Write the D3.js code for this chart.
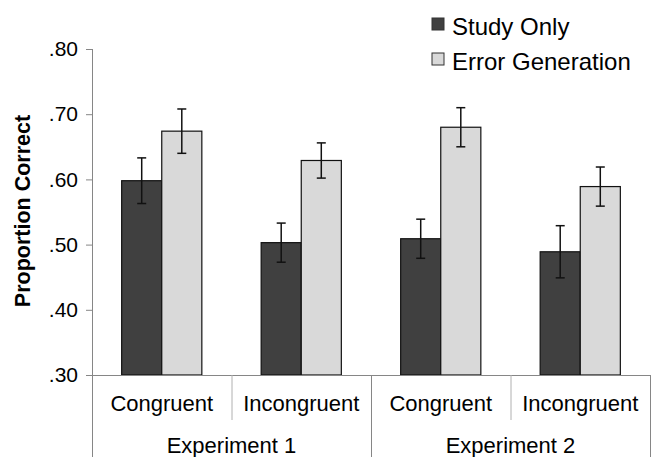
<!DOCTYPE html>
<html>
<head>
<meta charset="utf-8">
<script src="https://cdn.jsdelivr.net/npm/d3@7"></script>
<style>
  body { margin: 0; background: #fff; }
  svg { display: block; font-family: "Liberation Sans", Arial, sans-serif; }
</style>
</head>
<body>
<svg width="655" height="457"></svg>
<script>
// data
var experiments = ['Experiment 1', 'Experiment 2'];
var conditions = ['Congruent', 'Incongruent', 'Congruent', 'Incongruent'];
var series = ['Study Only', 'Error Generation'];
var studyOnly = [0.598, 0.503, 0.509, 0.489];
var studyOnlyErr = [0.035, 0.030, 0.030, 0.040];
var errorGen = [0.674, 0.629, 0.680, 0.589];
var errorGenErr = [0.034, 0.027, 0.030, 0.030];
var yTicks = [0.30, 0.40, 0.50, 0.60, 0.70, 0.80];
var colors = ['#404040', '#d9d9d9'];

var svg = d3.select('svg');
var plotLeft = 92, plotRight = 650, plotTop = 49, plotBottom = 375;

var x0 = d3.scaleBand()
  .domain(d3.range(conditions.length))
  .range([plotLeft, plotRight])
  .padding(0);

var x1 = d3.scaleBand()
  .domain(series)
  .range([0, x0.bandwidth()])
  .paddingInner(0)
  .paddingOuter(0.74);

var y = d3.scaleLinear().domain([0.30, 0.80]).range([plotBottom, plotTop]);

// rows for the bars
var rows = [];
conditions.forEach(function (c, i) {
  rows.push({ i: i, s: series[0], v: studyOnly[i], e: studyOnlyErr[i] });
  rows.push({ i: i, s: series[1], v: errorGen[i], e: errorGenErr[i] });
});

var axisColor = '#868686';

// y axis
var yAxis = d3.axisLeft(y)
  .tickValues(yTicks)
  .tickSize(6)
  .tickPadding(8)
  .tickFormat(function (d) { return d3.format('.2f')(d).replace(/^0/, ''); });

var ya = svg.append('g').attr('transform', 'translate(' + plotLeft + ',0)').call(yAxis);
ya.select('.domain').remove();
ya.selectAll('.tick line').attr('stroke', axisColor);
ya.selectAll('.tick text')
  .attr('fill', '#000')
  .style('font-size', '21px')
  .attr('font-family', '"Liberation Sans", Arial, sans-serif');

// y axis line goes down past the x axis to the bottom
svg.append('line')
  .attr('x1', plotLeft + 0.5).attr('x2', plotLeft + 0.5)
  .attr('y1', plotTop).attr('y2', 457)
  .attr('stroke', axisColor);

// bars
svg.append('g').selectAll('rect')
  .data(rows)
  .enter().append('rect')
  .attr('x', function (d) { return x0(d.i) + x1(d.s); })
  .attr('y', function (d) { return y(d.v); })
  .attr('width', x1.bandwidth())
  .attr('height', function (d) { return y(0.30) - y(d.v); })
  .attr('fill', function (d) { return colors[series.indexOf(d.s)]; })
  .attr('stroke', '#111')
  .attr('stroke-width', 1.2);

// error bars
var eb = svg.append('g').selectAll('g')
  .data(rows)
  .enter().append('g')
  .attr('transform', function (d) {
    return 'translate(' + (x0(d.i) + x1(d.s) + x1.bandwidth() / 2) + ',0)';
  });
eb.append('line')
  .attr('y1', function (d) { return y(d.v + d.e); })
  .attr('y2', function (d) { return y(d.v - d.e); })
  .attr('stroke', '#111').attr('stroke-width', 1.5);
eb.append('line')
  .attr('x1', -4.5).attr('x2', 4.5)
  .attr('y1', function (d) { return y(d.v + d.e); })
  .attr('y2', function (d) { return y(d.v + d.e); })
  .attr('stroke', '#111').attr('stroke-width', 1.5);
eb.append('line')
  .attr('x1', -4.5).attr('x2', 4.5)
  .attr('y1', function (d) { return y(d.v - d.e); })
  .attr('y2', function (d) { return y(d.v - d.e); })
  .attr('stroke', '#111').attr('stroke-width', 1.5);

// x axis line
svg.append('line')
  .attr('x1', plotLeft - 6).attr('x2', plotRight)
  .attr('y1', plotBottom + 0.5).attr('y2', plotBottom + 0.5)
  .attr('stroke', axisColor);

// category dividers
d3.range(1, conditions.length + 1).forEach(function (i) {
  var xx = (i < conditions.length ? x0(i) : plotRight) + 0.5;
  var full = (i % 2 === 0);
  svg.append('line')
    .attr('x1', xx).attr('x2', xx)
    .attr('y1', plotBottom).attr('y2', full ? 457 : 420)
    .attr('stroke', full ? axisColor : '#b0b0b0');
});

// category labels
svg.append('g').selectAll('text')
  .data(conditions)
  .enter().append('text')
  .attr('x', function (d, i) { return x0(i) + x0.bandwidth() / 2; })
  .attr('y', 411)
  .attr('text-anchor', 'middle')
  .style('font-size', '22px')
  .text(function (d) { return d; });

// experiment labels
svg.append('g').selectAll('text')
  .data(experiments)
  .enter().append('text')
  .attr('x', function (d, i) { return x0(i * 2) + x0.bandwidth(); })
  .attr('y', 453)
  .attr('text-anchor', 'middle')
  .style('font-size', '22px')
  .text(function (d) { return d; });

// y title
svg.append('text')
  .attr('transform', 'translate(30,' + 211 + ') rotate(-90)')
  .attr('text-anchor', 'middle')
  .style('font-size', '21.5px')
  .style('font-weight', 'bold')
  .text('Proportion Correct');

// legend
var lg = svg.append('g').selectAll('g')
  .data(series)
  .enter().append('g')
  .attr('transform', function (d, i) { return 'translate(432,' + (18 + i * 35) + ')'; });
lg.append('rect')
  .attr('width', 12).attr('height', 12)
  .attr('fill', function (d, i) { return colors[i]; })
  .attr('stroke', '#333');
lg.append('text')
  .attr('x', 20).attr('y', 16.5)
  .style('font-size', '24px')
  .text(function (d) { return d; });
</script>
</body>
</html>
